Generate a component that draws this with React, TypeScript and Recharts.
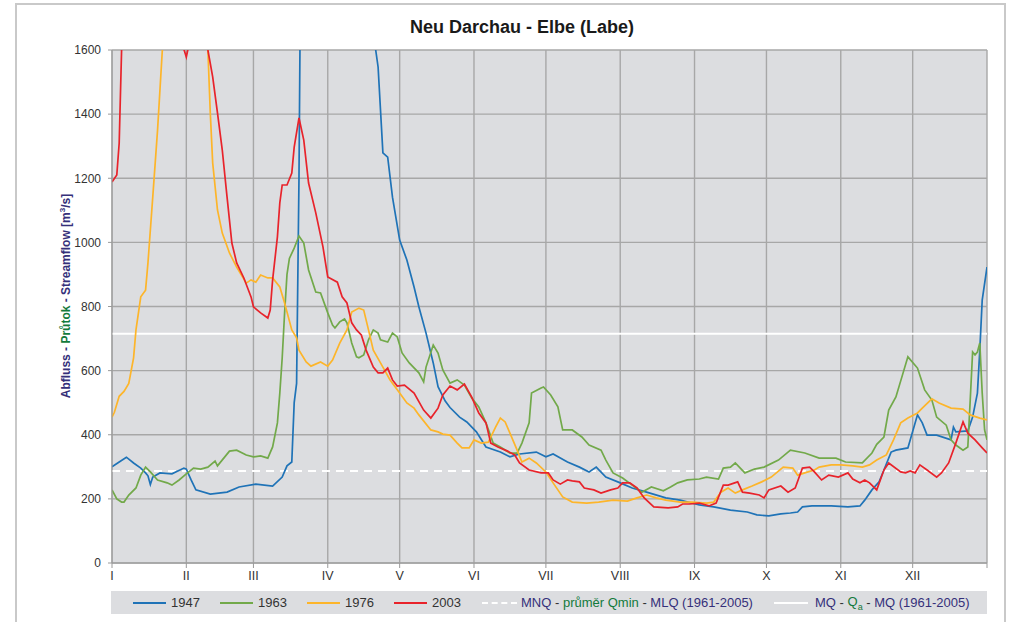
import { LineChart, Line, XAxis, YAxis, CartesianGrid, ReferenceLine } from "recharts"

// day of year -> discharge [m3/s]
const s1947: [number, number][] = [
    [0, 300], [3, 315], [6, 330], [9, 312], [12, 296], [14, 281], [15, 272], [16, 245], [17, 268],
    [20, 281], [25, 278], [30, 296], [31, 293], [33, 259], [35, 228], [41, 215], [48, 221],
    [53, 237], [60, 246], [67, 240], [71, 268], [73, 303], [75, 315], [76, 500], [77, 560],
    [78, 1200], [79, 2200], [82, 3000], [88, 3400], [95, 3300], [102, 2700], [107, 2000],
    [110, 1600], [111, 1547], [113, 1279], [115, 1266], [117, 1141], [120, 1007], [123, 945],
    [126, 861], [128, 799], [131, 717], [134, 624], [136, 550], [139, 505], [141, 485],
    [145, 455], [148, 440], [152, 409], [156, 362], [162, 346], [166, 331], [170, 340],
    [177, 346], [181, 331], [184, 340], [190, 315], [195, 299], [199, 284], [202, 299],
    [206, 268], [212, 250], [217, 234], [223, 221], [231, 203], [237, 196], [245, 181],
    [251, 175], [258, 165], [265, 159], [269, 150], [274, 147], [279, 153], [283, 156],
    [286, 159], [288, 175], [292, 178], [300, 178], [307, 175], [312, 178], [314, 196],
    [317, 228], [320, 253], [322, 290], [325, 346], [327, 352], [332, 359], [336, 462],
    [338, 437], [340, 399], [344, 399], [350, 384], [351, 424], [352, 409], [357, 412],
    [359, 455], [361, 530], [362, 664], [363, 820], [365, 923],
]

const s1963: [number, number][] = [
    [0, 228], [2, 200], [4, 190], [5, 190], [7, 212], [10, 234], [12, 274], [14, 299], [16, 284],
    [19, 259], [23, 250], [25, 243], [28, 259], [31, 278], [34, 296], [37, 293], [40, 299],
    [43, 318], [44, 303], [49, 349], [52, 352], [56, 337], [59, 331], [62, 334], [65, 327],
    [67, 362], [69, 437], [70, 530], [71, 640], [72, 780], [73, 900], [74, 950], [76, 982],
    [78, 1020], [80, 998], [82, 914], [85, 845], [87, 842], [90, 780], [92, 742], [93, 733],
    [95, 752], [97, 761], [98, 749], [100, 686], [102, 643], [103, 640], [105, 649], [107, 696],
    [109, 727], [111, 717], [112, 696], [115, 689], [117, 717], [119, 705], [121, 655],
    [124, 624], [128, 593], [130, 565], [131, 611], [134, 680], [136, 655], [138, 602],
    [141, 561], [144, 571], [147, 555], [150, 515], [153, 487], [156, 437], [159, 374],
    [162, 362], [166, 343], [169, 343], [171, 374], [174, 437], [175, 530], [179, 546],
    [180, 549], [183, 524], [186, 487], [188, 415], [192, 415], [196, 393], [199, 368],
    [204, 352], [206, 321], [209, 281], [213, 265], [217, 243], [221, 221], [225, 237],
    [230, 225], [233, 237], [236, 250], [240, 259], [245, 262], [248, 268], [253, 262],
    [255, 296], [258, 299], [260, 312], [264, 281], [268, 293], [272, 299], [278, 321],
    [283, 352], [289, 343], [295, 327], [302, 327], [306, 315], [313, 312], [317, 343],
    [319, 370], [322, 393], [324, 477], [327, 518], [330, 593], [332, 643], [336, 608],
    [339, 540], [342, 508], [344, 455], [348, 430], [350, 384], [352, 368], [355, 352],
    [357, 362], [358, 508], [359, 658], [360, 649], [361, 658], [362, 686], [363, 530],
    [364, 415], [365, 384],
]

const s1976: [number, number][] = [
    [0, 455], [1, 470], [3, 520], [5, 535], [7, 560], [9, 640], [10, 727], [12, 830], [14, 851],
    [15, 936], [17, 1141], [19, 1350], [21, 1600], [24, 2000], [30, 2200], [36, 2100],
    [40, 1600], [41, 1404], [42, 1248], [44, 1101], [46, 1029], [49, 967], [52, 923],
    [56, 873], [58, 883], [60, 876], [62, 898], [65, 889], [67, 889], [70, 861], [72, 811],
    [75, 727], [77, 702], [78, 664], [81, 627], [83, 614], [87, 627], [90, 614], [92, 633],
    [95, 686], [98, 727], [100, 783], [103, 795], [105, 789], [107, 727], [109, 664],
    [113, 611], [116, 571], [120, 530], [123, 499], [126, 483], [128, 462], [133, 415],
    [136, 409], [138, 402], [141, 399], [144, 374], [146, 359], [149, 359], [151, 384],
    [154, 374], [157, 377], [160, 424], [162, 452], [164, 440], [166, 405], [169, 352],
    [171, 315], [174, 327], [177, 312], [181, 284], [184, 250], [188, 206], [192, 190],
    [198, 187], [203, 190], [209, 196], [215, 193], [219, 203], [223, 212], [227, 203],
    [231, 196], [237, 190], [242, 190], [248, 187], [251, 190], [254, 221], [257, 234],
    [260, 218], [263, 228], [267, 240], [271, 253], [275, 268], [280, 299], [284, 296],
    [286, 274], [289, 281], [293, 290], [295, 299], [300, 306], [304, 306], [309, 303],
    [313, 299], [316, 306], [319, 321], [323, 337], [326, 384], [329, 437], [332, 452],
    [336, 468], [338, 483], [342, 512], [345, 499], [350, 483], [355, 480], [358, 462],
    [362, 452], [365, 446],
]

const s2003: [number, number][] = [
    [0, 1188], [2, 1210], [3, 1310], [4, 1600], [6, 2000], [12, 2200], [20, 2000], [28, 1650],
    [31, 1578], [33, 1650], [36, 1800], [40, 1600], [42, 1516], [44, 1404], [46, 1288],
    [48, 1141], [50, 998], [52, 936], [55, 889], [58, 830], [59, 799], [62, 780], [65, 764],
    [66, 789], [67, 883], [69, 1017], [70, 1123], [71, 1179], [73, 1179], [75, 1216],
    [76, 1297], [78, 1388], [80, 1319], [82, 1185], [85, 1092], [88, 986], [90, 892],
    [94, 876], [96, 830], [98, 811], [100, 749], [102, 727], [104, 711], [106, 664],
    [109, 611], [111, 593], [113, 593], [115, 608], [117, 571], [119, 552], [122, 555],
    [126, 530], [130, 477], [133, 452], [136, 483], [138, 524], [141, 552], [144, 540],
    [147, 558], [150, 518], [153, 468], [156, 437], [158, 374], [161, 362], [165, 349],
    [168, 337], [170, 312], [174, 290], [179, 281], [182, 281], [184, 259], [187, 246],
    [190, 259], [192, 256], [195, 253], [197, 234], [201, 228], [204, 218], [208, 228],
    [211, 234], [213, 250], [216, 250], [219, 234], [222, 203], [226, 175], [232, 172],
    [236, 175], [238, 184], [241, 184], [245, 187], [249, 178], [252, 187], [255, 243],
    [257, 243], [261, 253], [263, 221], [266, 218], [270, 212], [272, 203], [274, 228],
    [279, 240], [282, 221], [285, 234], [288, 296], [291, 299], [293, 284], [296, 259],
    [299, 274], [303, 268], [307, 281], [309, 262], [312, 250], [314, 259], [316, 250],
    [319, 228], [322, 290], [324, 312], [329, 284], [331, 281], [333, 287], [335, 281],
    [337, 306], [340, 290], [344, 268], [346, 281], [349, 312], [352, 374], [355, 440],
    [357, 405], [360, 384], [363, 359], [365, 343],
]

const MNQ = 287
const MQ = 715

const monthStarts = [0, 31, 59, 90, 120, 151, 181, 212, 243, 273, 304, 334, 365]
const monthNames = ["I", "II", "III", "IV", "V", "VI", "VII", "VIII", "IX", "X", "XI", "XII", ""]
const majorTicks = [0, 200, 400, 600, 800, 1000, 1200, 1400, 1600]
const minorTicks = [50, 100, 150, 250, 300, 350, 450, 500, 550, 650, 700, 750, 850, 900, 950,
    1050, 1100, 1150, 1250, 1300, 1350, 1450, 1500, 1550]

const series = [
    { name: "1947", color: "#1f73b7", points: s1947 },
    { name: "1963", color: "#72a94a", points: s1963 },
    { name: "1976", color: "#fdb52a", points: s1976 },
    { name: "2003", color: "#e8232b", points: s2003 },
]

const NAVY = "#35307a"
const GREEN = "#137a3c"
const FONT = "'Liberation Sans', Arial, sans-serif"

const toRows = (pts: [number, number][]) => pts.map(([d, q]) => ({ d, q }))

export default function App() {
    return (
        <div style={{ position: "absolute", left: 0, top: 0, width: 1015, height: 622, background: "#fff", fontFamily: FONT, overflow: "hidden" }}>
            <div style={{ position: "absolute", left: 15, top: 3, width: 991, height: 630, border: "2px solid #c9c9c9", boxSizing: "border-box" }} />

            <div style={{ position: "absolute", left: 0, width: 1015, top: 17, textAlign: "center", fontSize: 18, fontWeight: "bold", color: "#1a1a1a", paddingLeft: 29, boxSizing: "border-box" }}>
                Neu Darchau - Elbe (Labe)
            </div>

            <div style={{ position: "absolute", left: 65, top: 296, transform: "translate(-50%, -50%) rotate(-90deg)", whiteSpace: "nowrap", fontSize: 12, fontWeight: "bold", color: NAVY }}>
                Abfluss - <span style={{ color: GREEN }}>Průtok</span> - Streamflow [m<sup style={{ fontSize: 8 }}>3</sup>/s]
            </div>

            <div style={{ position: "absolute", left: 0, top: 0 }}>
                <LineChart width={1015} height={622} margin={{ top: 50, right: 28, bottom: 29, left: 62 }}>
                    <CartesianGrid
                        fill="#dcdde0"
                        fillOpacity={1}
                        stroke="#a7a7a7"
                        strokeWidth={1.4}
                        horizontalValues={majorTicks}
                        verticalValues={monthStarts}
                    />
                    <XAxis
                        dataKey="d"
                        type="number"
                        domain={[0, 365]}
                        ticks={monthStarts}
                        tickFormatter={(v: number) => monthNames[monthStarts.indexOf(v)] ?? ""}
                        height={30}
                        tickSize={5}
                        tickMargin={3}
                        stroke="#9a9a9a"
                        tick={{ fill: "#333", fontSize: 12.5, fontFamily: FONT }}
                        allowDataOverflow
                    />
                    <YAxis
                        type="number"
                        domain={[0, 1600]}
                        ticks={majorTicks}
                        width={50}
                        tickSize={4}
                        tickMargin={7}
                        stroke="#9a9a9a"
                        tick={{ fill: "#333", fontSize: 12, fontFamily: FONT }}
                        allowDataOverflow
                    />
                    <YAxis
                        yAxisId="minor"
                        type="number"
                        domain={[0, 1600]}
                        ticks={minorTicks}
                        mirror
                        width={0}
                        tick={false}
                        axisLine={false}
                        tickSize={3}
                        tickLine={{ stroke: "#9a9a9a" }}
                    />
                    <ReferenceLine y={MNQ} stroke="#ffffff" strokeWidth={2} strokeDasharray="8 6" />
                    <ReferenceLine y={MQ} stroke="#ffffff" strokeWidth={2} />
                    {series.map((s) => (
                        <Line
                            key={s.name}
                            data={toRows(s.points)}
                            dataKey="q"
                            name={s.name}
                            type="linear"
                            stroke={s.color}
                            strokeWidth={1.7}
                            dot={false}
                            activeDot={false}
                            isAnimationActive={false}
                        />
                    ))}
                </LineChart>
            </div>

            <div style={{ position: "absolute", left: 111, top: 591, width: 876, height: 23, background: "#dcdde0" }} />
            {series.map((s, i) => (
                <div key={s.name} style={{ position: "absolute", left: 133 + i * 87, top: 594, height: 17, display: "flex", alignItems: "center", fontSize: 13, color: "#333" }}>
                    <span style={{ display: "inline-block", width: 33, height: 2, background: s.color, marginRight: 5 }} />
                    {s.name}
                </div>
            ))}
            <div style={{ position: "absolute", left: 482, top: 594, height: 17, display: "flex", alignItems: "center", fontSize: 13, color: "#333", whiteSpace: "nowrap" }}>
                <span style={{ display: "inline-block", width: 35, height: 0, borderTop: "2px dashed #fff", marginRight: 4 }} />
                <span style={{ color: NAVY }}>MNQ</span>&nbsp;-&nbsp;<span style={{ color: GREEN }}>průměr Qmin</span>&nbsp;-&nbsp;<span style={{ color: NAVY }}>MLQ (1961-2005)</span>
            </div>
            <div style={{ position: "absolute", left: 774, top: 594, height: 17, display: "flex", alignItems: "center", fontSize: 13, color: "#333", whiteSpace: "nowrap" }}>
                <span style={{ display: "inline-block", width: 34, height: 2, background: "#fff", marginRight: 7 }} />
                <span style={{ color: NAVY }}>MQ</span>&nbsp;-&nbsp;<span style={{ color: GREEN }}>Q<sub style={{ fontSize: 9 }}>a</sub></span>&nbsp;-&nbsp;<span style={{ color: NAVY }}>MQ (1961-2005)</span>
            </div>
        </div>
    )
}
